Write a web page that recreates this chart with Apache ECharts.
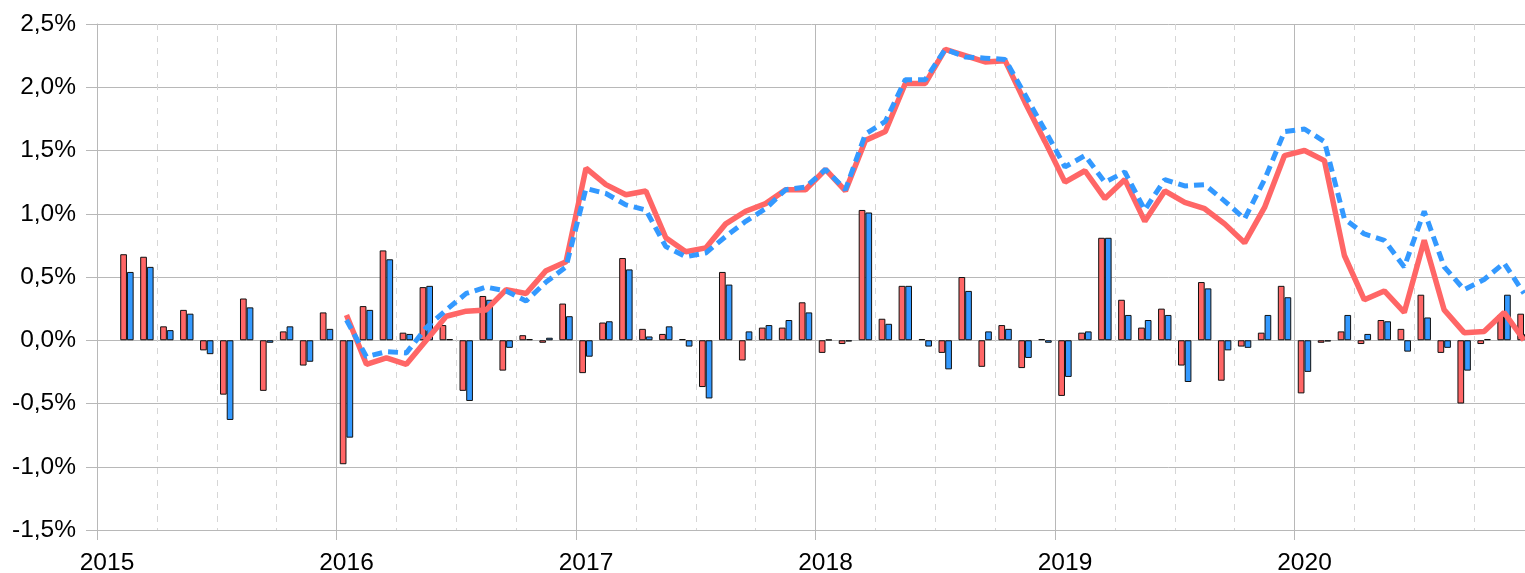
<!DOCTYPE html>
<html>
  <head>
    <meta charset="UTF-8">
    <title>Monatliche Veränderung</title>
    <script src="https://cdn.jsdelivr.net/npm/echarts@6/dist/echarts.min.js"></script>
    <style>
      html, body { margin: 0; padding: 0; background: #fff; }
    </style>
  </head>
  <body>
    <div id="box" style="width:1525px;height:573px"></div>
    <script>
        // bars: Feb 2015 .. Dec 2020, lines: Jan 2016 .. Dec 2020 (values in %)
        var barStart = '2015-02';
        var lineStart = '2016-01';
        var yearLabels = ['2015', '2016', '2017', '2018', '2019', '2020'];

        var barRed = [
            0.68, 0.66, 0.11, 0.24, -0.08, -0.43, 0.33, -0.40, 0.07, -0.20, 0.22,
            -0.98, 0.27, 0.71, 0.06, 0.42, 0.12, -0.40, 0.35, -0.24, 0.04, -0.02, 0.29,
            -0.26, 0.14, 0.65, 0.09, 0.05, 0.01, -0.37, 0.54, -0.16, 0.10, 0.10, 0.30,
            -0.10, -0.03, 1.03, 0.17, 0.43, 0.01, -0.10, 0.50, -0.21, 0.12, -0.22, 0.01,
            -0.44, 0.06, 0.81, 0.32, 0.10, 0.25, -0.20, 0.46, -0.32, -0.05, 0.06, 0.43,
            -0.42, -0.02, 0.07, -0.03, 0.16, 0.09, 0.36, -0.10, -0.50, -0.03, 0.20, 0.21
        ];
        var barBlue = [
            0.54, 0.58, 0.08, 0.21, -0.11, -0.63, 0.26, -0.02, 0.11, -0.17, 0.09,
            -0.77, 0.24, 0.64, 0.05, 0.43, 0.01, -0.48, 0.32, -0.06, 0.01, 0.02, 0.19,
            -0.13, 0.15, 0.56, 0.03, 0.11, -0.05, -0.46, 0.44, 0.07, 0.12, 0.16, 0.22,
            0.005, -0.01, 1.01, 0.13, 0.43, -0.05, -0.23, 0.39, 0.07, 0.09, -0.14, -0.02,
            -0.29, 0.07, 0.81, 0.20, 0.16, 0.20, -0.33, 0.41, -0.08, -0.06, 0.20, 0.34,
            -0.25, -0.01, 0.20, 0.05, 0.15, -0.09, 0.18, -0.06, -0.24, 0.01, 0.36, 0.05
        ];
        var lineRed = [
            0.20, -0.19, -0.14, -0.19, 0.00, 0.19, 0.23, 0.24, 0.40, 0.37, 0.55, 0.62,
            1.36, 1.23, 1.15, 1.18, 0.81, 0.70, 0.73, 0.92, 1.02, 1.08, 1.19, 1.19,
            1.35, 1.18, 1.58, 1.65, 2.03, 2.03, 2.30, 2.25, 2.20, 2.21, 1.88, 1.57,
            1.25, 1.34, 1.12, 1.27, 0.94, 1.18, 1.09, 1.04, 0.92, 0.77, 1.05, 1.46,
            1.50, 1.42, 0.67, 0.32, 0.39, 0.22, 0.79, 0.24, 0.06, 0.07, 0.22, 0.00
        ];
        var lineBlue = [
            0.16, -0.13, -0.09, -0.10, 0.10, 0.24, 0.37, 0.42, 0.39, 0.31, 0.46, 0.58,
            1.20, 1.16, 1.07, 1.03, 0.74, 0.66, 0.69, 0.82, 0.94, 1.04, 1.19, 1.21,
            1.35, 1.19, 1.63, 1.73, 2.06, 2.06, 2.30, 2.24, 2.23, 2.22, 1.94, 1.66,
            1.37, 1.46, 1.25, 1.33, 1.03, 1.27, 1.22, 1.23, 1.10, 0.96, 1.27, 1.65,
            1.67, 1.57, 0.96, 0.84, 0.79, 0.58, 1.02, 0.58, 0.40, 0.48, 0.61, 0.37
        ];

        // x position in months since Jan 2015, middle of the month
        function monthPos(start, i) {
            var p = start.split('-');
            return (p[0] - 2015) * 12 + (p[1] - 1) + i + 0.5;
        }
        function pairs(start, arr) {
            return arr.map(function (v, i) { return [monthPos(start, i), v]; });
        }

        var red = '#ff6666', blue = '#3399ff', grid = '#b8b8b8';
        var font = 'Liberation Sans';

        var myChart = echarts.init(document.getElementById('box'));
        myChart.setOption({
            animation: false,
            grid: {left: 97, right: -9, top: 24, bottom: 43, containLabel: false, outerBoundsMode: 'none'},
            xAxis: {
                type: 'value',
                min: 0, max: 72, interval: 12,
                axisLine: {show: true, onZero: false, lineStyle: {color: grid}},
                axisTick: {show: true, length: 10, lineStyle: {color: grid}},
                axisLabel: {
                    margin: 21, fontSize: 24.5, color: '#000', fontFamily: font,
                    padding: [0, 0, 0, 20],   // label sits under mid-January
                    formatter: function (v) { return yearLabels[v / 12] || ''; }
                },
                splitLine: {show: true, lineStyle: {color: grid}},
                minorTick: {show: false, splitNumber: 4},
                minorSplitLine: {show: true, lineStyle: {color: '#d6d6d6', type: [6, 6]}}
            },
            yAxis: {
                type: 'value',
                min: -1.5, max: 2.5, interval: 0.5,
                axisLine: {show: true, lineStyle: {color: grid}},
                axisTick: {show: true, length: 11, lineStyle: {color: grid}},
                axisLabel: {
                    margin: 21, fontSize: 24.5, color: '#000', fontFamily: font,
                    formatter: function (v) { return v.toFixed(1).replace('.', ',') + '%'; }
                },
                splitLine: {show: true, lineStyle: {color: grid}}
            },
            series: [
                {
                    type: 'bar', barWidth: 6.7, barGap: '0%',
                    itemStyle: {color: red, borderColor: '#111', borderWidth: 1},
                    data: pairs(barStart, barRed)
                },
                {
                    type: 'bar', barWidth: 6.7, barGap: '0%',
                    itemStyle: {color: blue, borderColor: '#111', borderWidth: 1},
                    data: pairs(barStart, barBlue)
                },
                {
                    type: 'line', showSymbol: false, symbol: 'none', z: 3,
                    lineStyle: {color: red, width: 5.5},
                    data: pairs(lineStart, lineRed)
                },
                {
                    type: 'line', showSymbol: false, symbol: 'none', z: 4,
                    lineStyle: {color: blue, width: 5, type: [10, 6]},
                    data: pairs(lineStart, lineBlue)
                }
            ]
        });
    </script>
  </body>
</html>
